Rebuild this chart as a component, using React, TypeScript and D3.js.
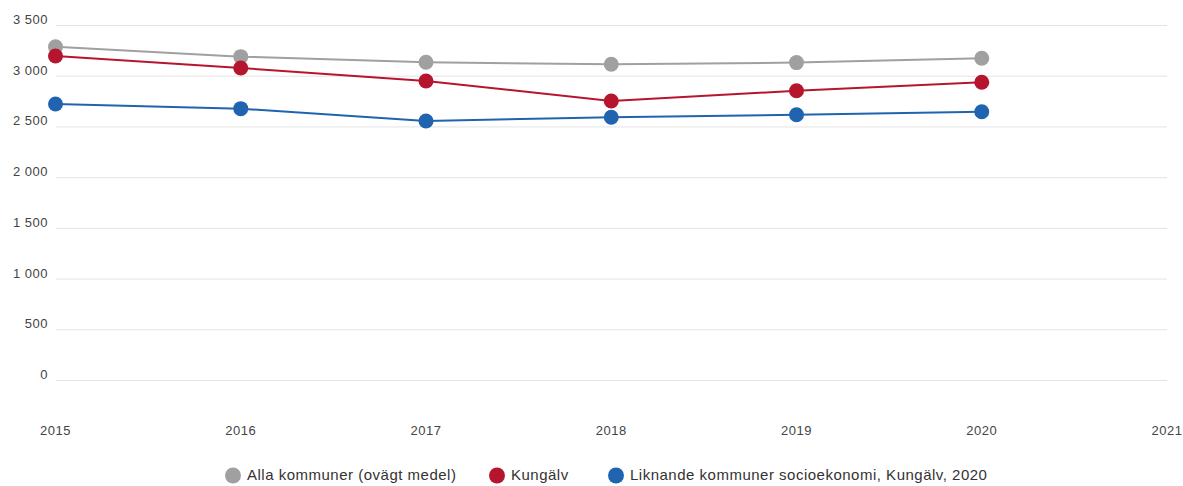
import React from "react";
import * as d3 from "d3";

const years = [2015, 2016, 2017, 2018, 2019, 2020];
const xTicks = [2015, 2016, 2017, 2018, 2019, 2020, 2021];
const yTicks = [0, 500, 1000, 1500, 2000, 2500, 3000, 3500];
const allaKommuner = [3290, 3193, 3137, 3118, 3134, 3177];
const kungalv = [3200, 3081, 2953, 2756, 2857, 2940];
const liknande = [2726, 2680, 2559, 2595, 2620, 2650];
const seriesNames = [
  "Alla kommuner (ovägt medel)",
  "Kungälv",
  "Liknande kommuner socioekonomi, Kungälv, 2020",
];
const seriesColors = ["#a0a0a0", "#b5162e", "#2064af"];

const W = 1183;
const H = 486;
const FONT = "'Liberation Sans', Arial, Helvetica, sans-serif";

export default function App() {
  const x = d3.scaleLinear().domain([2015, 2021]).range([55.5, 1167]);
  const y = d3.scaleLinear().domain([0, 3500]).range([380.5, 25.5]);
  const line = d3
    .line<[number, number]>()
    .x((d) => x(d[0]))
    .y((d) => y(d[1]));
  const series = [allaKommuner, kungalv, liknande];
  const fmt = (v: number) => d3.format(",")(v).replace(/,/g, " ");
  const legendX = [233, 497, 616];

  return (
    <svg
      width={W}
      height={H}
      style={{ position: "absolute", left: 0, top: 0, background: "#fff" }}
      fontFamily={FONT}
    >
      {yTicks.map((t) => (
        <g key={t}>
          <line
            x1={56}
            x2={1167}
            y1={y(t)}
            y2={y(t)}
            stroke="#e3e3e3"
            strokeWidth={1}
          />
          <text
            x={48}
            y={y(t) - 5}
            textAnchor="end"
            dominantBaseline="middle"
            fontSize={13}
            letterSpacing={0.5}
            fill="#444"
          >
            {fmt(t)}
          </text>
        </g>
      ))}
      {xTicks.map((t) => (
        <text
          key={t}
          x={x(t)}
          y={432}
          textAnchor="middle"
          dominantBaseline="middle"
          fontSize={13}
          letterSpacing={0.5}
          fill="#444"
        >
          {t}
        </text>
      ))}
      {series.map((vals, i) => {
        const pts = years.map((yr, j) => [yr, vals[j]] as [number, number]);
        return (
          <g key={i}>
            <path
              d={line(pts) || ""}
              fill="none"
              stroke={seriesColors[i]}
              strokeWidth={2}
            />
            {pts.map((p, j) => (
              <circle
                key={j}
                cx={x(p[0])}
                cy={y(p[1])}
                r={7.5}
                fill={seriesColors[i]}
              />
            ))}
          </g>
        );
      })}
      {seriesNames.map((n, i) => (
        <g key={n}>
          <circle cx={legendX[i]} cy={475.5} r={8} fill={seriesColors[i]} />
          <text
            x={legendX[i] + 14}
            y={476}
            dominantBaseline="middle"
            fontSize={15}
            letterSpacing={0.5}
            fill="#333"
          >
            {n}
          </text>
        </g>
      ))}
    </svg>
  );
}
